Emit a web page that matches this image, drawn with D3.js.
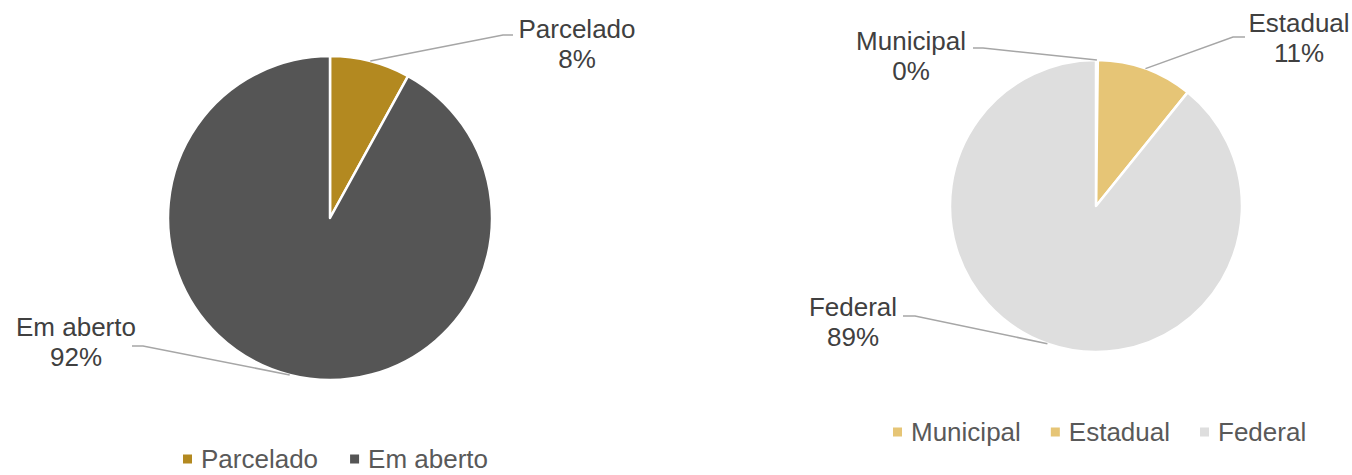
<!DOCTYPE html>
<html lang="pt">
<head>
<meta charset="UTF-8">
<script src="https://d3js.org/d3.v7.min.js"></script>
<title>Pizza</title>
<style>
  body { margin: 0; background: #fff; }
  text { font-family: "Liberation Sans", Arial, sans-serif; }
</style>
</head>
<body>
<div id="canvas"></div>
<script>
// left chart
const statusCats = ["Parcelado", "Em aberto"]
const statusVals = [8, 92]
const statusLabels = ["8%", "92%"]
const statusColors = ["#B38920", "#555555"]

// right chart
const esferaCats = ["Municipal", "Estadual", "Federal"]
const esferaVals = [0.2, 10.6, 89.2]
const esferaLabels = ["0%", "11%", "89%"]
const esferaColors = ["#E6C576", "#E6C576", "#DEDEDE"]

const svg = d3.select("#canvas").append("svg").attr("width", 1352).attr("height", 475)

// label text anchor (centre x, first baseline y) and the elbow of the leader line
function drawPie(cfg) {
    const pie = d3.pie().sort(null).value(d => d)
    const arcs = pie(cfg.values)
    const arc = d3.arc().innerRadius(0).outerRadius(cfg.r)
    const g = svg.append("g").attr("transform", `translate(${cfg.cx},${cfg.cy})`)
    g.selectAll("path.slice").data(arcs).enter().append("path")
        .attr("class", "slice")
        .attr("d", arc)
        .attr("fill", (d, i) => cfg.colors[i])
        .attr("stroke", "#fff")
        .attr("stroke-width", 2.5)
        .attr("stroke-linejoin", "round")

    arcs.forEach((a, i) => {
        const L = cfg.labels[i]
        const mid = (a.startAngle + a.endAngle) / 2
        const px = cfg.cx + cfg.r * Math.sin(mid)
        const py = cfg.cy - cfg.r * Math.cos(mid)
        svg.append("polyline")
            .attr("points", `${L.lx1},${L.ly} ${L.lx2},${L.ly} ${px},${py}`)
            .attr("fill", "none")
            .attr("stroke", "#A6A6A6")
            .attr("stroke-width", 1.5)
        const t = svg.append("text")
            .attr("x", L.tx).attr("y", L.ty)
            .attr("text-anchor", "middle")
            .attr("font-size", 26)
            .attr("fill", "#404040")
        t.append("tspan").attr("x", L.tx).text(cfg.cats[i])
        t.append("tspan").attr("x", L.tx).attr("dy", 30).text(cfg.pct[i])
    })

    // legend
    const lg = svg.append("g")
    let x = cfg.legX
    cfg.cats.forEach((c, i) => {
        lg.append("rect").attr("x", x).attr("y", cfg.legY - 4.5).attr("width", 9).attr("height", 9)
            .attr("fill", cfg.colors[i])
        const tt = lg.append("text").attr("x", x + 18).attr("y", cfg.legY + 9)
            .attr("font-size", 26).attr("fill", "#595959").text(c)
        x += 18 + tt.node().getComputedTextLength() + cfg.legGap
    })
}

drawPie({
    cx: 330, cy: 218, r: 162,
    values: statusVals, cats: statusCats, pct: statusLabels, colors: statusColors,
    labels: [
        { tx: 577, ty: 38, lx1: 513, lx2: 503, ly: 35 },
        { tx: 76, ty: 336, lx1: 132, lx2: 143, ly: 346 }
    ],
    legX: 183, legY: 459, legGap: 32
})

drawPie({
    cx: 1096, cy: 206, r: 146,
    values: esferaVals, cats: esferaCats, pct: esferaLabels, colors: esferaColors,
    labels: [
        { tx: 911, ty: 50, lx1: 973, lx2: 983, ly: 48 },
        { tx: 1299, ty: 32, lx1: 1245, lx2: 1233, ly: 37 },
        { tx: 853, ty: 316, lx1: 903, lx2: 915, ly: 316 }
    ],
    legX: 893, legY: 432, legGap: 30
})
</script>
</body>
</html>
